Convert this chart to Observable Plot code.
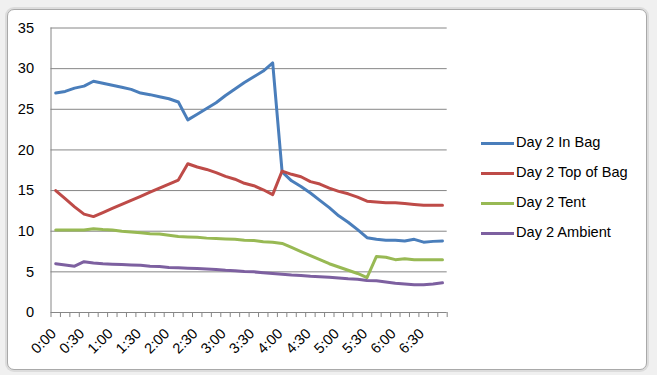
<!DOCTYPE html>
<html>
<head>
<meta charset="utf-8">
<script src="https://cdn.jsdelivr.net/npm/d3@7"></script>
<script src="https://cdn.jsdelivr.net/npm/@observablehq/plot@0.6"></script>
<style>
  html, body { margin: 0; padding: 0; }
  body { width: 657px; height: 375px; overflow: hidden; position: relative; background: #f0f0f0; font-family: "Liberation Sans", Arial, sans-serif; }
  #frame { position: absolute; left: 7px; top: 9px; width: 638px; height: 359px; background: #fff; border: 1px solid #a9a9a9; border-radius: 7px; box-shadow: 0 0 0 2px #dcdcdc; }
  #chart { position: absolute; left: 0; top: 0; }
  #legend { position: absolute; left: 480px; top: 133px; }
  .item { position: absolute; left: 0; height: 20px; width: 170px; }
  .item .sw { position: absolute; left: 1px; top: 9px; width: 33px; height: 3px; }
  .item .lb { position: absolute; left: 36px; top: 1px; font-size: 14.6px; color: #000; white-space: nowrap; }
</style>
</head>
<body>
<div id="frame"></div>
<div id="chart"></div>
<div id="legend"></div>
<script>
const times = ["0:00","0:10","0:20","0:30","0:40","0:50","1:00","1:10","1:20","1:30","1:40","1:50",
  "2:00","2:10","2:20","2:30","2:40","2:50","3:00","3:10","3:20","3:30","3:40","3:50",
  "4:00","4:10","4:20","4:30","4:40","4:50","5:00","5:10","5:20","5:30","5:40","5:50",
  "6:00","6:10","6:20","6:30","6:40","6:50"];

const seriesNames = ["Day 2 In Bag", "Day 2 Top of Bag", "Day 2 Tent", "Day 2 Ambient"];
const seriesColors = ["#4a7ebb", "#be4b48", "#98b954", "#7d60a0"];

const inBag = [27.0,27.2,27.6,27.85,28.45,28.2,27.95,27.7,27.45,27.0,26.8,26.55,26.3,25.9,23.7,24.4,
  25.1,25.8,26.7,27.5,28.3,29.0,29.7,30.7,17.3,16.2,15.5,14.7,13.8,12.9,11.9,11.1,10.2,9.2,
  9.0,8.9,8.9,8.8,9.0,8.65,8.75,8.8];
const topOfBag = [15.0,14.0,13.0,12.1,11.8,12.3,12.8,13.3,13.8,14.3,14.8,15.3,15.8,16.3,18.3,17.9,
  17.6,17.2,16.75,16.4,15.9,15.6,15.1,14.5,17.4,17.0,16.7,16.1,15.8,15.3,14.9,14.6,14.2,13.7,
  13.6,13.5,13.5,13.4,13.3,13.2,13.2,13.2];
const tent = [10.15,10.15,10.15,10.15,10.3,10.2,10.15,10.0,9.9,9.8,9.7,9.65,9.5,9.35,9.3,9.25,
  9.15,9.1,9.05,9.0,8.9,8.85,8.7,8.65,8.5,8.0,7.5,7.0,6.5,6.0,5.6,5.2,4.8,4.3,
  6.9,6.8,6.5,6.6,6.5,6.5,6.5,6.5];
const ambient = [6.0,5.85,5.7,6.25,6.1,6.0,5.95,5.9,5.85,5.8,5.7,5.65,5.55,5.5,5.45,5.4,
  5.35,5.3,5.2,5.15,5.05,5.0,4.9,4.8,4.7,4.6,4.55,4.45,4.4,4.35,4.25,4.15,4.1,3.95,
  3.9,3.75,3.6,3.5,3.4,3.4,3.5,3.65];

const yTicks = [0, 5, 10, 15, 20, 25, 30, 35];
const labelEvery = 3;

const allSeries = [inBag, topOfBag, tent, ambient];
const rows = [];
allSeries.forEach((vals, s) => vals.forEach((v, i) => rows.push({i, v, s: seriesNames[s]})));

const idx = times.map((t, i) => i);
const boundaries = d3.range(0, times.length + 1).map(b => b - 0.5);
const labelIdx = idx.filter(i => i % labelEvery === 0);

const plot = Plot.plot({
  width: 657,
  height: 375,
  marginLeft: 50.5,
  marginRight: 210.3,
  marginTop: 27.5,
  marginBottom: 63,
  style: {background: "transparent", fontFamily: "Liberation Sans, Arial, sans-serif", fontSize: "14.6px", color: "#000", overflow: "visible"},
  x: {domain: [-0.5, times.length - 0.5], axis: null},
  y: {domain: [0, 35], ticks: yTicks, tickSize: 0, tickPadding: 17, label: null},
  color: {domain: seriesNames, range: seriesColors},
  marks: [
    Plot.ruleY(yTicks, {stroke: "#868686", strokeWidth: 1}),
    Plot.ruleX([-0.5], {y1: 0, y2: 35, stroke: "#868686", strokeWidth: 1}),
    Plot.ruleX(boundaries, {y1: 0, y2: -0.62, stroke: "#868686", strokeWidth: 1}),
    Plot.line(rows, {x: "i", y: "v", z: "s", stroke: "s", strokeWidth: 3, strokeLinejoin: "round", strokeLinecap: "round"}),
    Plot.text(labelIdx, {x: d => d, y: -2.3, text: d => times[d], rotate: -45, textAnchor: "end", dx: -2, fontSize: 14.6, fill: "#000"})
  ]
});
document.getElementById("chart").appendChild(plot);

const legend = d3.select("#legend");
seriesNames.forEach((name, k) => {
  const it = legend.append("div").attr("class", "item").style("top", (k * 30) + "px");
  it.append("div").attr("class", "sw").style("background", seriesColors[k]);
  it.append("div").attr("class", "lb").text(name);
});
</script>
</body>
</html>
